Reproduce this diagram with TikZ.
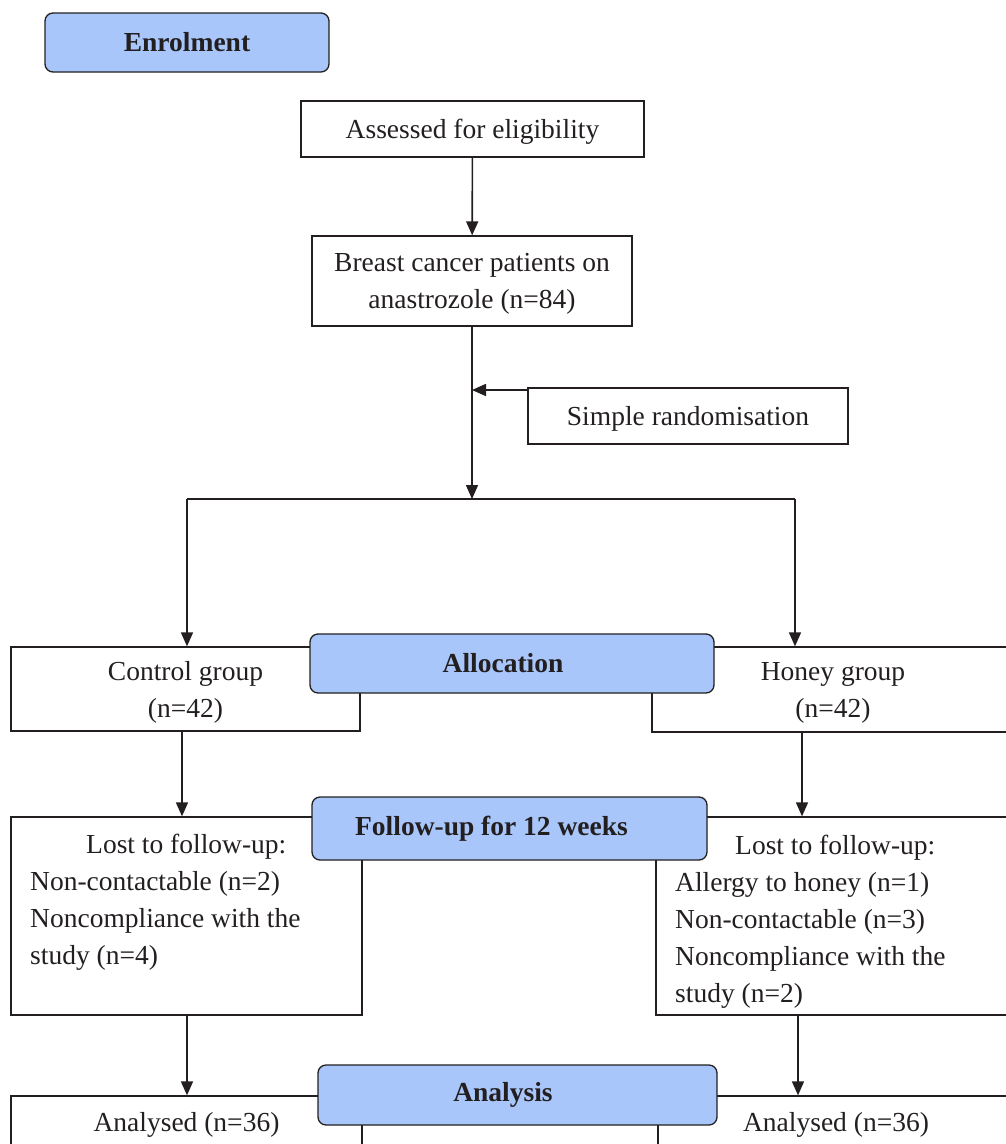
\documentclass[tikz,border=0pt]{standalone}
\usepackage{fontspec}
\setmainfont{Liberation Serif}
\usetikzlibrary{arrows.meta}
\definecolor{phasefill}{RGB}{169,198,250}
\definecolor{ink}{RGB}{35,31,32}

\begin{document}
\begin{tikzpicture}[x=1pt,y=-1pt,
        font=\fontsize{27.5}{37}\selectfont, text=ink,
        box/.style={draw=ink, line width=1.3pt, inner sep=0pt, align=center, text depth=0pt},
        phase/.style={draw=ink, fill=phasefill, line width=1.3pt, rounded corners=8pt,
            inner sep=0pt, font=\fontsize{27.5}{37}\selectfont\bfseries},
        arr/.style={draw=ink, line width=1.6pt, -{Triangle[length=14pt,width=12pt]}}]
    \useasboundingbox (0,0) rectangle (1006,1144);
    \clip (0,0) rectangle (1006,1144);
    \node[phase, minimum width=284pt, minimum height=59pt] (enrol) at (187,42.5) {Enrolment};
    \node[box, minimum width=343pt, minimum height=56pt] (assess) at (472.5,129) {Assessed for eligibility};
    \node[box, minimum width=320pt, minimum height=90pt] (breast) at (472,281) {Breast cancer patients on\\anastrozole (n=84)};
    \node[box, minimum width=320pt, minimum height=56pt] (rand) at (688,416) {Simple randomisation};
    \node[box, minimum width=349pt, minimum height=84pt] (control) at (185.5,689) {Control group\\(n=42)};
    \node[box, minimum width=362pt, minimum height=85pt] (honey) at (833,689.5) {Honey group\\(n=42)};
    \node[box, minimum width=351pt, minimum height=198pt] (lostL) at (186.5,916) {};
    \node[box, minimum width=358pt, minimum height=198pt] (lostR) at (835,916) {};
    \node[anchor=base west, align=left, inner sep=0pt] (lostLtxt) at (30,964)
        {\hspace*{56pt}Lost to follow-up:\\Non-contactable (n=2)\\Noncompliance with the\\study (n=4)};
    \node[anchor=base west, align=left, inner sep=0pt] (lostRtxt) at (675,1002)
        {\hspace*{60pt}Lost to follow-up:\\Allergy to honey (n=1)\\Non-contactable (n=3)\\Noncompliance with the\\study (n=2)};
    \node[box, minimum width=351pt, minimum height=52pt] (anaL) at (186.5,1122) {Analysed (n=36)};
    \node[box, minimum width=356pt, minimum height=52pt] (anaR) at (836,1122) {Analysed (n=36)};
    \node[phase, minimum width=404pt, minimum height=59pt] (alloc) at (512,663.5) {\hspace*{-18pt}Allocation};
    \node[phase, minimum width=395pt, minimum height=63pt] (follow) at (509.5,828.5) {\hspace*{-36pt}Follow-up for 12 weeks};
    \node[phase, minimum width=399pt, minimum height=60pt] (analysis) at (517.5,1095) {\hspace*{-29pt}Analysis};
    \coordinate (split) at (472,499);
    \coordinate (splitL) at (187,499);
    \coordinate (splitR) at (795,499);
    \draw[arr] (assess) -- (breast);
    \draw[arr] (breast) -- (split);
    \draw[arr] (rand.north west |- 0,390) -- (split |- 0,390);
    \draw[draw=ink, line width=1.3pt] (splitL) -- (splitR);
    \draw[arr] (splitL) -- (splitL |- control.north);
    \draw[arr] (splitR) -- (splitR |- honey.north);
    \draw[arr] (control.south -| 182,0) -- (lostL.north -| 182,0);
    \draw[arr] (honey.south -| 802,0) -- (lostR.north -| 802,0);
    \draw[arr] (lostL.south -| 187,0) -- (anaL.north -| 187,0);
    \draw[arr] (lostR.south -| 798,0) -- (anaR.north -| 798,0);
\end{tikzpicture}
\end{document}
